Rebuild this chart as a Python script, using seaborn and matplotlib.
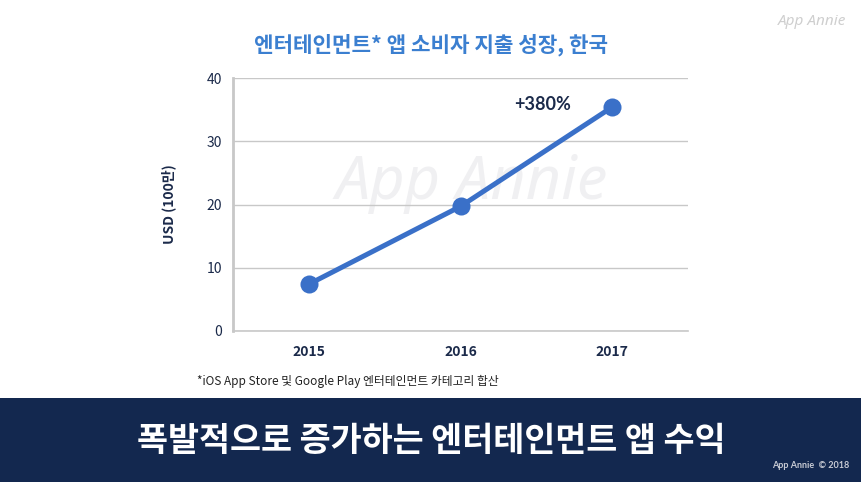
import matplotlib
matplotlib.use("Agg")
import matplotlib.pyplot as plt
import seaborn as sns
import pandas as pd
from matplotlib.patches import Rectangle

years = ["2015", "2016", "2017"]
values = [7.4, 19.7, 35.4]
yticks = [0, 10, 20, 30, 40]
title = "엔터테인먼트* 앱 소비자 지출 성장, 한국"
ylabel = "USD (100만)"
annotation = "+380%"
footnote = "*iOS App Store 및 Google Play 엔터테인먼트 카테고리 합산"
banner = "폭발적으로 증가하는 엔터테인먼트 앱 수익"

sns.set_theme(style="white")
plt.rcParams['font.family'] = ['Noto Sans CJK KR', 'DejaVu Sans']

df = pd.DataFrame({"year": years, "value": values})

fig = plt.figure(figsize=(8.62, 4.82), dpi=100)
fig.patch.set_facecolor("white")
ax = fig.add_axes([233/862, 1-331/482, (688-233)/862, (331-78)/482])
ax.patch.set_alpha(0)

navy = "#1b2a4a"
blue = "#3a70c8"

sns.lineplot(data=df, x="year", y="value", ax=ax, color=blue, linewidth=3.6,
             marker="o", markersize=13, markeredgewidth=0, sort=False, zorder=3)

ax.set_xlim(-0.5, 2.5)
ax.set_ylim(0, 40)
ax.set_yticks(yticks)
ax.set_yticklabels([str(t) for t in yticks], fontsize=10, color=navy)
ax.set_xticks(range(len(years)))
ax.set_xticklabels(years, fontsize=10, color=navy, fontweight="bold")
ax.tick_params(axis="x", pad=10, length=0)
ax.tick_params(axis="y", pad=8, length=0)
ax.yaxis.grid(True, color="#c8c8c8", linewidth=1)
ax.set_axisbelow(True)
for s in ["top", "right"]:
    ax.spines[s].set_visible(False)
ax.spines["left"].set_color("#c8c8c8")
ax.spines["left"].set_linewidth(2)
ax.spines["bottom"].set_color("#c8c8c8")
ax.spines["bottom"].set_linewidth(1.2)
ax.set_xlabel("")
ax.set_ylabel(ylabel, fontsize=10, fontweight="bold", color=navy, labelpad=22)

ax.annotate(annotation, xy=(2, values[2]), xytext=(-50, 2), textcoords="offset points",
            fontsize=13, fontweight="bold", color=navy, ha="center", va="center",
            family=['Lato', 'DejaVu Sans'])

# watermark (behind the line)
ax.text(0.547, 0.62, "App Annie", fontsize=44, color="#f0f0f2", style="italic",
        ha="center", va="center", zorder=0.5, transform=fig.transFigure,
        family=['Noto Sans', 'DejaVu Sans'])
fig.text(0.982, 0.955, "App Annie", fontsize=11, color="#cfcfcf", style="italic",
         ha="right", va="center", family=['Noto Sans', 'DejaVu Sans'])

fig.text(431/862, 1-45/482, title, fontsize=15.3, fontweight="bold", color="#3b7fd0",
         ha="center", va="center")
fig.text(197/862, 1-381/482, footnote, fontsize=8.5, color="#222222",
         ha="left", va="center")

fig.add_artist(Rectangle((0, 0), 1, (482-398)/482, transform=fig.transFigure,
                         facecolor="#13284f", edgecolor="none", zorder=1))
fig.text(431/862, 1-441/482, banner, fontsize=24.3, fontweight="bold", color="white",
         ha="center", va="center", zorder=2)
fig.text(0.985, 1-465/482, "App Annie  © 2018", fontsize=6.5, fontweight="bold",
         color="#c8cbd4", ha="right", va="center", zorder=2,
         family=['Lato', 'DejaVu Sans'])

fig.savefig("out.png", dpi=100)
